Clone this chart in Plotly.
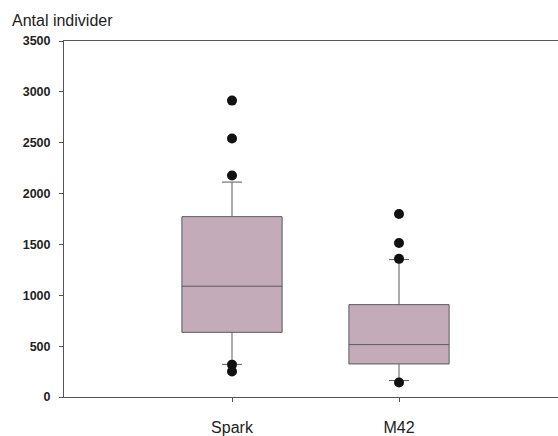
import plotly.graph_objects as go

categories = ["Spark", "M42"]
q1 = [636, 325]
median = [1089, 515]
q3 = [1773, 908]
lower_whisker = [321, 162]
upper_whisker = [2113, 1351]
outliers = [
    [2914, 2541, 2178, 318, 250],
    [1799, 1514, 1358, 143],
]
y_ticks = [0, 500, 1000, 1500, 2000, 2500, 3000, 3500]

xpos = list(range(len(categories)))

fig = go.Figure()
fig.add_trace(go.Box(
    x=xpos, q1=q1, median=median, q3=q3,
    lowerfence=lower_whisker, upperfence=upper_whisker,
    width=0.6, whiskerwidth=0.2,
    fillcolor="#c4abba", line=dict(color="#5a5a5a", width=1),
    boxpoints=False, showlegend=False, hoverinfo="skip",
))
for i, pts in enumerate(outliers):
    fig.add_trace(go.Scatter(
        x=[xpos[i]] * len(pts), y=pts, mode="markers",
        marker=dict(color="#111111", size=10),
        showlegend=False, hoverinfo="skip",
    ))

fig.update_layout(
    width=558, height=436,
    margin=dict(l=64, r=0, t=41, b=35),
    paper_bgcolor="white", plot_bgcolor="white",
    font=dict(family="Liberation Sans, Arial, sans-serif", color="#222222"),
    xaxis=dict(
        range=[-1.006, 1.952], tickmode="array", tickvals=xpos, ticktext=categories,
        showgrid=False, zeroline=False, showline=True, mirror=True,
        linecolor="#555555", linewidth=1,
        ticks="outside", ticklen=4, tickcolor="#555555",
        tickfont=dict(size=16, color="#222222"), ticklabelstandoff=12,
    ),
    yaxis=dict(
        range=[0, 3500], tickvals=y_ticks,
        showgrid=False, zeroline=False, showline=True,
        linecolor="#555555", linewidth=1,
        ticks="outside", ticklen=4, tickcolor="#555555",
        tickfont=dict(size=12.5, color="#222222", weight="bold"),
        ticklabelstandoff=6,
    ),
    annotations=[dict(
        text="Antal individer", xref="paper", yref="paper",
        x=(10 - 64) / 494, y=1 + 21 / 360, xanchor="left", yanchor="middle",
        showarrow=False, font=dict(size=16, color="#222222"),
    )],
)

fig.write_html(
    "out.html",
    config={"displayModeBar": False},
    post_script="document.body.style.margin='0';document.body.style.overflow='hidden';",
)
